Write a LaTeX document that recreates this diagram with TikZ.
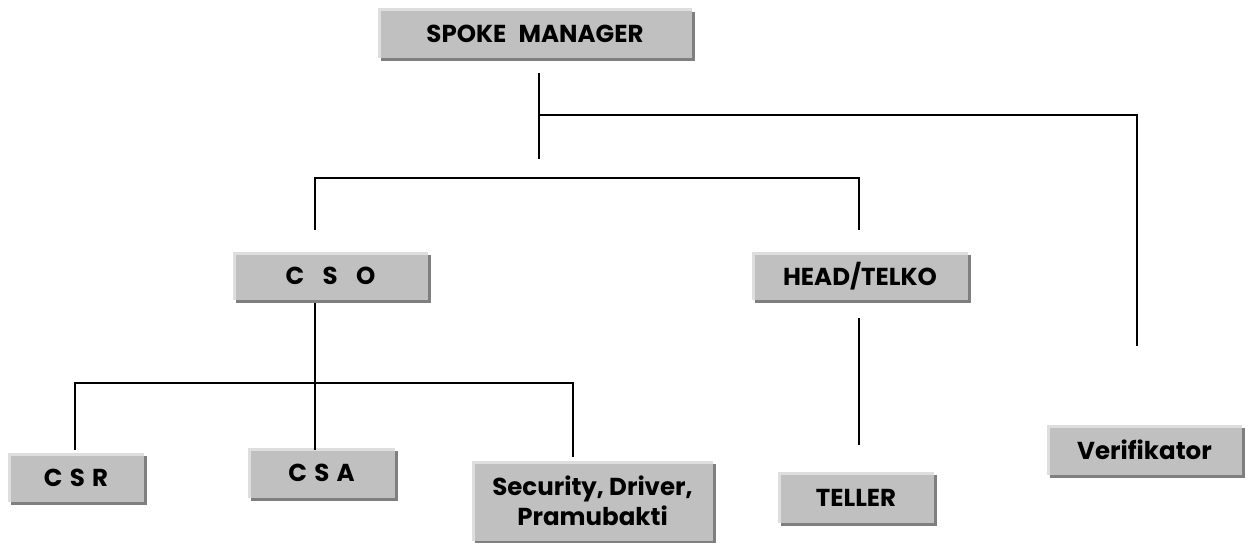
\documentclass[tikz,border=0pt]{standalone}
\usepackage{fontspec}
\setmainfont{Poppins}
\usetikzlibrary{shadows}
\definecolor{boxgray}{HTML}{C0C0C0}
\definecolor{shadowgray}{HTML}{7F7F7F}
\definecolor{lightedge}{HTML}{DEDEDE}
\begin{document}
\begin{tikzpicture}[x=1pt,y=-1pt,
  box/.style={fill=boxgray, inner sep=0pt, anchor=center, align=center,
    font=\bfseries\fontsize{24.5}{30}\selectfont,
    general shadow={fill=shadowgray, shadow xshift=3pt, shadow yshift=-3pt},
    path picture={\draw[lightedge, line width=5pt]
      (path picture bounding box.south west) -- (path picture bounding box.north west)
      -- (path picture bounding box.north east);}},
  conn/.style={draw=black, line width=2.4pt}]
\useasboundingbox (0,0) rectangle (1253,543);
\fill[white] (0,0) rectangle (1253,543);

\node[box, minimum width=314pt, minimum height=49pt] (sm) at (535,33.5) {SPOKE\hspace{0.5em}MANAGER};
\node[box, minimum width=195pt, minimum height=48pt] (cso) at (330.5,276) {C\hspace{0.75em}S\hspace{0.75em}O};
\node[box, minimum width=216pt, minimum height=48pt] (ht) at (860,276) {HEAD/TELKO};
\node[box, minimum width=136pt, minimum height=49pt] (csr) at (76,477.5) {C\hspace{0.3em}S\hspace{0.3em}R};
\node[box, minimum width=147pt, minimum height=50pt] (csa) at (321.5,473) {C\hspace{0.3em}S\hspace{0.3em}A};
\node[box, minimum width=241pt, minimum height=80pt] (sec) at (592.5,501) {Security, Driver,\\Pramubakti};
\node[box, minimum width=156pt, minimum height=51pt] (tel) at (856,497.5) {TELLER};
\node[box, minimum width=195pt, minimum height=50pt] (ver) at (1144.5,450) {Verifikator};

% junction coordinates
\coordinate (smtop) at (539,73);
\coordinate (smbot) at (539,159);
\coordinate (j1) at (539,115);
\coordinate (j1r) at (1137,115);
\coordinate (verend) at (1137,346);
\coordinate (m1l) at (315,178);
\coordinate (m1r) at (859,178);
\coordinate (csoend) at (315,230);
\coordinate (htend) at (859,230);
\coordinate (csotop) at (315,303);
\coordinate (csobot) at (315,450);
\coordinate (m2l) at (75,383);
\coordinate (m2r) at (573,383);
\coordinate (csrend) at (75,450);
\coordinate (secend) at (573,457);
\coordinate (httop) at (859,318);
\coordinate (telend) at (859,445);

\draw[conn] (smtop) -- (smbot);
\draw[conn] (j1) -- (j1r) -- (verend);
\draw[conn] (csoend) -- (m1l) -- (m1r) -- (htend);
\draw[conn] (csotop) -- (csobot);
\draw[conn] (csrend) -- (m2l) -- (m2r) -- (secend);
\draw[conn] (httop) -- (telend);
\end{tikzpicture}
\end{document}
